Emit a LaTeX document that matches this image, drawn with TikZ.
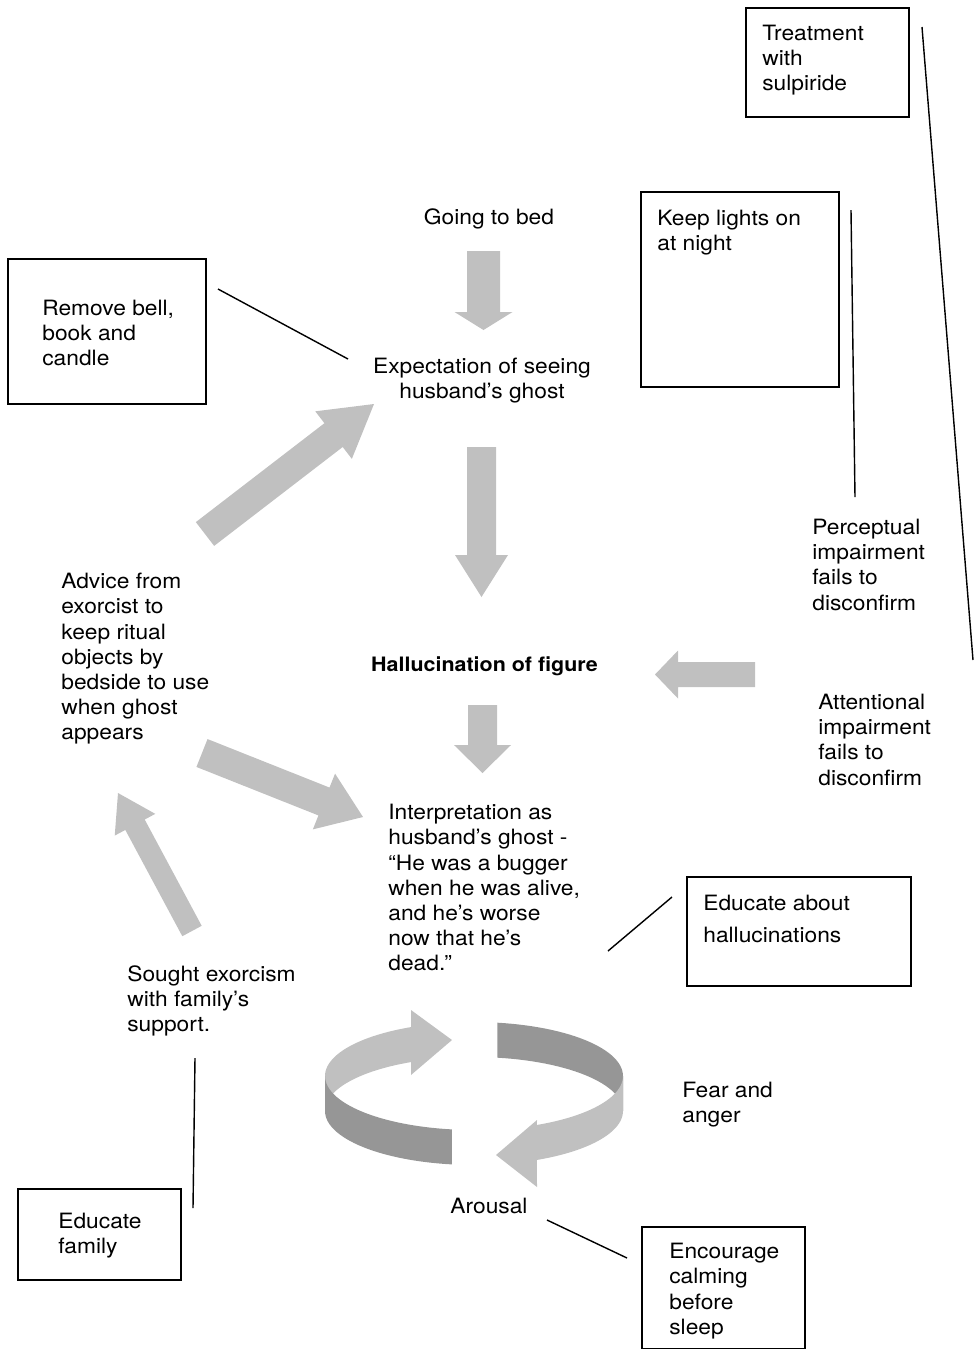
\documentclass[tikz,border=0pt]{standalone}
\usepackage{fontspec}
\setmainfont{TeX Gyre Heros}[FakeStretch=1.08]
\usetikzlibrary{calc}
\definecolor{arrowgrey}{HTML}{C0C0C0}
\definecolor{ringdark}{HTML}{969696}

\newcommand{\blockarrow}[5]{%
  \coordinate (ba-h) at ($(#2)!#5mm!(#1)$);
  \fill[arrowgrey] ($(#1)!#3mm!90:(#2)$) -- ($(ba-h)!#3mm!-90:(#1)$) -- ($(ba-h)!#4mm!-90:(#1)$)
    -- (#2) -- ($(ba-h)!#4mm!90:(#1)$) -- ($(ba-h)!#3mm!90:(#1)$) -- ($(#1)!#3mm!-90:(#2)$) -- cycle;}

\begin{document}
\begin{tikzpicture}[x=0.2mm, y=-0.2mm,
    box/.style={draw, line width=1.1pt, anchor=north west, inner sep=0pt},
    txt/.style={anchor=north west, align=left, inner sep=0pt, font=\fontsize{12}{14.3}\selectfont},
    ctxt/.style={anchor=north, align=center, inner sep=0pt, font=\fontsize{12}{14.3}\selectfont},
    link/.style={line width=0.8pt}
]
\useasboundingbox (0,0) rectangle (974,1349);

\node[box, minimum width=32.6mm, minimum height=21.8mm] (treatbox) at (745,7) {};
\node[txt] (treat) at (762,25) {Treatment\\with\\sulpiride};
\node[box, minimum width=39.6mm, minimum height=39mm] (lightsbox) at (640,191) {};
\node[txt] (lights) at (657,210) {Keep lights on\\at night};
\node[box, minimum width=39.6mm, minimum height=29mm] (removebox) at (7,258) {};
\node[txt] (remove) at (42,300) {Remove bell,\\book and\\candle};
\node[box, minimum width=44.8mm, minimum height=21.8mm] (eduhallbox) at (686,876) {};
\node[txt, font=\fontsize{12}{18}\selectfont] (eduhall) at (703,895) {Educate about\\hallucinations};
\node[box, minimum width=32.6mm, minimum height=18.2mm] (edufambox) at (17,1188) {};
\node[txt] (edufam) at (58,1213) {Educate\\family};
\node[box, minimum width=32.6mm, minimum height=24.4mm] (calmbox) at (641,1226) {};
\node[txt] (calm) at (669,1243) {Encourage\\calming\\before\\sleep};

\node[ctxt] (bed) at (489,208) {Going to bed};
\node[ctxt] (expect) at (482,358) {Expectation of seeing\\husband’s ghost};
\node[ctxt, font=\fontsize{11.3}{14.3}\selectfont\bfseries] (hall) at (484.5,656) {Hallucination of figure};
\node[txt] (percep) at (812,519) {Perceptual\\impairment\\fails to\\disconfirm};
\node[txt] (atten) at (818,694) {Attentional\\impairment\\fails to\\disconfirm};
\node[txt] (advice) at (61,573) {Advice from\\exorcist to\\keep ritual\\objects by\\bedside to use\\when ghost\\appears};
\node[txt] (interp) at (388,804) {Interpretation as\\husband’s ghost -\\“He was a bugger\\when he was alive,\\and he’s worse\\now that he’s\\dead.”};
\node[txt] (sought) at (127,965) {Sought exorcism\\with family’s\\support.};
\node[txt] (fear) at (682,1082) {Fear and\\anger};
\node[ctxt] (arousal) at (489,1198) {Arousal};

\coordinate (treat-a) at (922,27);
\coordinate (treat-b) at (973,660);
\coordinate (lights-a) at (851,210);
\coordinate (lights-b) at (855,497);
\coordinate (remove-a) at (218,289);
\coordinate (remove-b) at (348,359);
\coordinate (eduhall-a) at (672,897);
\coordinate (eduhall-b) at (608,951);
\coordinate (edufam-a) at (193,1208);
\coordinate (edufam-b) at (195,1058);
\coordinate (calm-a) at (627,1258);
\coordinate (calm-b) at (547,1220);
\draw[link] (treat-a) -- (treat-b);
\draw[link] (lights-a) -- (lights-b);
\draw[link] (remove-a) -- (remove-b);
\draw[link] (eduhall-a) -- (eduhall-b);
\draw[link] (edufam-a) -- (edufam-b);
\draw[link] (calm-a) -- (calm-b);

\coordinate (bed-s) at (483.5,251);
\coordinate (expect-n) at (483.5,330);
\coordinate (expect-s) at (481.5,447);
\coordinate (hall-n) at (481.5,597);
\coordinate (hall-s) at (482.5,705);
\coordinate (interp-n) at (482.5,773);
\coordinate (percep-w) at (755,674.5);
\coordinate (hall-e) at (655,674.5);
\coordinate (advice-ne) at (205,534);
\coordinate (expect-sw) at (374,404);
\coordinate (advice-se) at (202,753);
\coordinate (interp-w) at (363,817);
\coordinate (sought-n) at (192,931);
\coordinate (advice-s) at (118,793);
\blockarrow{bed-s}{expect-n}{3.3}{5.8}{3.6}
\blockarrow{expect-s}{hall-n}{2.9}{5.3}{8.4}
\blockarrow{hall-s}{interp-n}{2.9}{5.7}{5.6}
\blockarrow{percep-w}{hall-e}{2.5}{4.8}{4.6}
\blockarrow{advice-ne}{expect-sw}{3.0}{6.0}{10.2}
\blockarrow{advice-se}{interp-w}{3.0}{6.0}{8.4}
\blockarrow{sought-n}{advice-s}{2.2}{4.6}{7.2}

\fill[arrowgrey] plot[domain=180:115, variable=\t, samples=30] ({474+149*cos(\t)},{1076-54*sin(\t)})
  -- (411,1010) -- (452,1040) -- (411,1075)
  -- plot[domain=115:180, variable=\t, samples=30] ({474+149*cos(\t)},{1111-54*sin(\t)}) -- cycle;
\fill[ringdark] plot[domain=81:0, variable=\t, samples=30] ({474+149*cos(\t)},{1076-54*sin(\t)})
  -- plot[domain=0:81, variable=\t, samples=30] ({474+149*cos(\t)},{1111-54*sin(\t)}) -- cycle;
\fill[arrowgrey] plot[domain=0:-65, variable=\t, samples=30] ({474+149*cos(\t)},{1076-54*sin(\t)})
  -- (537,1120) -- (496,1155) -- (537,1187)
  -- plot[domain=-65:0, variable=\t, samples=30] ({474+149*cos(\t)},{1111-54*sin(\t)}) -- cycle;
\fill[ringdark] plot[domain=-98.5:-180, variable=\t, samples=30] ({474+149*cos(\t)},{1076-54*sin(\t)})
  -- plot[domain=-180:-98.5, variable=\t, samples=30] ({474+149*cos(\t)},{1111-54*sin(\t)}) -- cycle;
\end{tikzpicture}
\end{document}
